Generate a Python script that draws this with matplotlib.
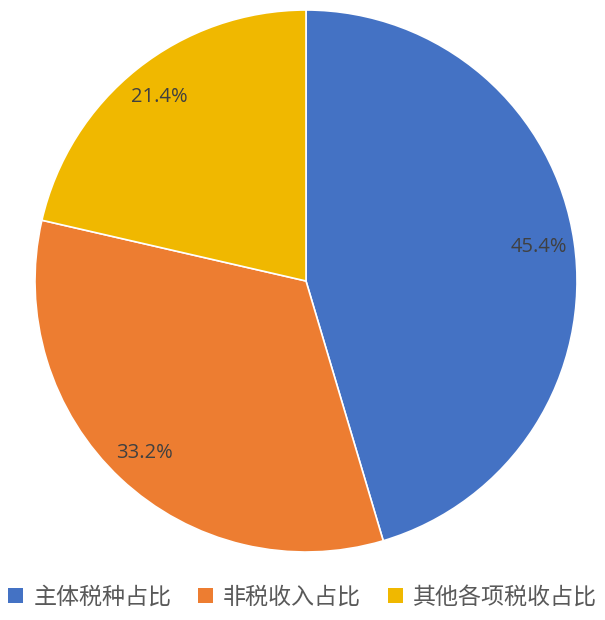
import matplotlib
matplotlib.use('Agg')
import matplotlib.pyplot as plt
from matplotlib.patches import Patch

plt.rcParams['font.family'] = ['Noto Sans CJK SC', 'DejaVu Sans']

categories = ['主体税种占比', '非税收入占比', '其他各项税收占比']
shares = [45.4, 33.2, 21.4]
colors = ['#4472C4', '#ED7D31', '#F0B800']

W, H = 605, 620
fig = plt.figure(figsize=(W / 100, H / 100), dpi=100)
cx, cy, r = 306, 281, 271
ax = fig.add_axes([(cx - r) / W, (H - cy - r) / H, 2 * r / W, 2 * r / H])

wedges, texts, autotexts = ax.pie(
    shares, colors=colors, startangle=90, counterclock=False,
    autopct='%.1f%%', pctdistance=0.87,
    wedgeprops=dict(edgecolor='white', linewidth=1.2),
    textprops=dict(color='#404040', fontsize=14.5, family=['Open Sans', 'DejaVu Sans']),
)
ax.set_xlim(-1, 1)
ax.set_ylim(-1, 1)
ax.set_aspect('equal')
ax.axis('off')

handles = [Patch(facecolor=c, edgecolor='none') for c in colors]
fig.legend(handles, categories, loc='center', bbox_to_anchor=(0.5, 1 - 597 / H),
           ncol=3, frameon=False, fontsize=16.6, labelcolor='#595959',
           handlelength=0.65, handleheight=0.65, handletextpad=0.45,
           columnspacing=1.15)

fig.savefig('out.png', dpi=100)
